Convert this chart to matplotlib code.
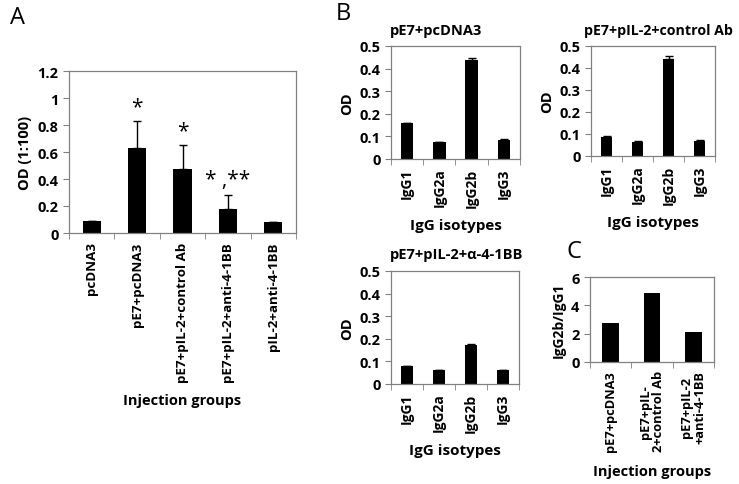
import numpy as np
import matplotlib
matplotlib.use("Agg")
import matplotlib.pyplot as plt
from matplotlib.ticker import FixedLocator, FuncFormatter

plt.rcParams['font.family'] = ['Open Sans', 'DejaVu Sans']

# ---- data ----
groups_a = ["pcDNA3", "pE7+pcDNA3", "pE7+pIL-2+control Ab",
            "pE7+pIL-2+anti-4-1BB", "pIL-2+anti-4-1BB"]
od_a = [0.09, 0.63, 0.475, 0.175, 0.085]
err_a = [0.0, 0.2, 0.175, 0.11, 0.0]
stars_a = ["", "*", "*", "* ,**", ""]

isotypes = ["IgG1", "IgG2a", "IgG2b", "IgG3"]
od_pcdna3 = [0.16, 0.077, 0.437, 0.085]
err_pcdna3 = [0.0, 0.0, 0.01, 0.003]
od_ctrl = [0.085, 0.063, 0.44, 0.068]
err_ctrl = [0.008, 0.003, 0.015, 0.003]
od_anti = [0.08, 0.06, 0.172, 0.063]
err_anti = [0.0, 0.003, 0.003, 0.0]

groups_c = ["pE7+pcDNA3", "pE7+pIL-\n2+control Ab", "pE7+pIL-2\n+anti-4-1BB"]
ratio_c = [2.75, 4.9, 2.15]

W, H = 739, 485
fig = plt.figure(figsize=(W / 100, H / 100), dpi=100)


def box(l, t, r, b):
    return [l / W, 1 - b / H, (r - l) / W, (b - t) / H]


def fmt(v, pos):
    return "%g" % round(v, 2)


def bars(ax, vals, errs, labels, ymax, ystep, lab_fs=10, bw=0.4):
    x = np.arange(len(vals))
    ax.bar(x, vals, width=bw, color="black", zorder=2)
    if errs is not None and any(errs):
        ax.errorbar(x, vals, yerr=[np.zeros(len(errs)), errs], fmt="none",
                    ecolor="black", elinewidth=1, capsize=3, capthick=1, zorder=3)
    ax.set_xlim(-0.5, len(vals) - 0.5)
    ax.set_ylim(0, ymax)
    ax.set_yticks(np.arange(0, ymax + ystep / 2, ystep))
    ax.yaxis.set_major_formatter(FuncFormatter(fmt))
    ax.set_xticks(x)
    ax.set_xticklabels(labels, rotation=90, fontsize=lab_fs, fontweight="bold",
                       linespacing=1.0)
    ax.tick_params(axis="x", which="major", length=0, pad=6)
    ax.xaxis.set_minor_locator(FixedLocator(np.arange(-0.5, len(vals), 1.0)))
    ax.tick_params(axis="x", which="minor", length=4, color="#808080", direction="out")
    ax.tick_params(axis="y", length=4, color="#808080", labelsize=10.5)
    for t in ax.get_yticklabels():
        t.set_fontweight("bold")
    for s in ax.spines.values():
        s.set_color("#808080")
        s.set_linewidth(0.9)


# panel A
axA = fig.add_axes(box(69, 72, 296, 234))
bars(axA, od_a, err_a, groups_a, 1.2, 0.2, lab_fs=9.6)
for i, s in enumerate(stars_a):
    if s:
        axA.text(i, od_a[i] + err_a[i] + 0.03, s, ha="center", va="bottom", fontsize=15)
axA.set_ylabel("OD (1:100)", fontsize=10.5, fontweight="bold")
axA.set_xlabel("Injection groups", fontsize=10.5, fontweight="bold", labelpad=8)
fig.text(10 / W, 1 - 18 / H, "A", fontsize=17, va="center", ha="left")

# panel B
axB1 = fig.add_axes(box(391, 47, 520, 160))
bars(axB1, od_pcdna3, err_pcdna3, isotypes, 0.5, 0.1, bw=0.38)
axB1.set_ylabel("OD", fontsize=10.5, fontweight="bold")
axB1.set_xlabel("IgG isotypes", fontsize=11, fontweight="bold", labelpad=8)
fig.text(390 / W, 1 - 31 / H, "pE7+pcDNA3", fontsize=10.5, fontweight="bold", va="center")

axB2 = fig.add_axes(box(591, 47, 715, 157))
bars(axB2, od_ctrl, err_ctrl, isotypes, 0.5, 0.1, bw=0.38)
axB2.set_ylabel("OD", fontsize=10.5, fontweight="bold")
axB2.set_xlabel("IgG isotypes", fontsize=11, fontweight="bold", labelpad=8)
fig.text(584 / W, 1 - 31 / H, "pE7+pIL-2+control Ab", fontsize=10.2, fontweight="bold", va="center")

axB3 = fig.add_axes(box(391, 272, 519, 385))
bars(axB3, od_anti, err_anti, isotypes, 0.5, 0.1, bw=0.38)
axB3.set_ylabel("OD", fontsize=10.5, fontweight="bold")
axB3.set_xlabel("IgG isotypes", fontsize=11, fontweight="bold", labelpad=8)
fig.text(390 / W, 1 - 255 / H, "pE7+pIL-2+\u03b1-4-1BB", fontsize=10.5, fontweight="bold", va="center")
fig.text(336 / W, 1 - 14 / H, "B", fontsize=17, va="center", ha="left")

# panel C
axC = fig.add_axes(box(590, 278, 714, 363))
bars(axC, ratio_c, None, groups_c, 6, 2, lab_fs=9.3, bw=0.4)
axC.set_ylabel("IgG2b/IgG1", fontsize=10, fontweight="bold")
axC.set_xlabel("Injection groups", fontsize=10.5, fontweight="bold", labelpad=9)
fig.text(567 / W, 1 - 252 / H, "C", fontsize=17, va="center", ha="left")

fig.savefig("out.png", dpi=100)
